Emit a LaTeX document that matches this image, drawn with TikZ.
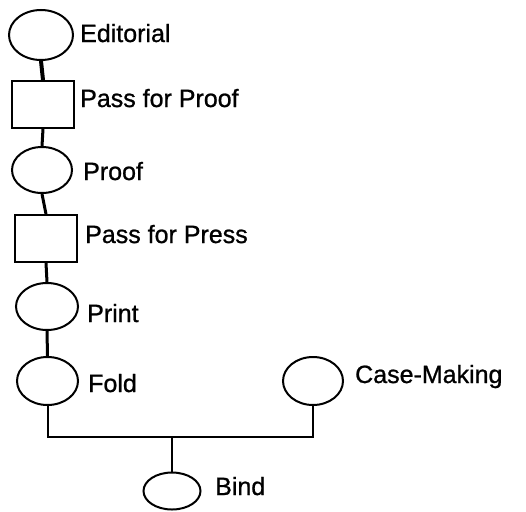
\documentclass[tikz,border=0pt]{standalone}
\usepackage{fontspec}
\setmainfont{Liberation Sans}
\newfontfamily\lblfont[FakeBold=0.9]{Liberation Sans}
\usetikzlibrary{shapes.geometric}

\begin{document}
\begin{tikzpicture}[x=1pt, y=-1pt,
		stage/.style={draw, ellipse, line width=2pt, inner sep=0pt},
		pass/.style={draw, rectangle, line width=2pt, inner sep=0pt},
		lbl/.style={anchor=base west, inner sep=0pt, font=\lblfont\fontsize{25}{30}\selectfont},
		link/.style={line width=3pt}]
		\useasboundingbox (0,0) rectangle (526,511);
		\node[stage, minimum width=64pt, minimum height=50pt] (edit) at (41,35) { };
		\node[pass, minimum width=62pt, minimum height=47pt] (pfproof) at (43,104.5) { };
		\node[stage, minimum width=60pt, minimum height=46pt] (proof) at (42,170) { };
		\node[pass, minimum width=62pt, minimum height=47pt] (pfpress) at (46,238.5) { };
		\node[stage, minimum width=62pt, minimum height=47pt] (print) at (47,306.5) { };
		\node[stage, minimum width=61pt, minimum height=48pt] (fold) at (47.5,381) { };
		\node[stage, minimum width=60pt, minimum height=48pt] (casemk) at (313,381) { };
		\node[stage, minimum width=57pt, minimum height=37pt] (bind) at (172,491) { };
		\coordinate (join) at (172,437);
		\node[lbl] (editlinha) at (80,42) {Editorial};
		\node[lbl] (pfprooflinha) at (80,107) {Pass for Proof};
		\node[lbl] (prooflinha) at (83,180) {Proof};
		\node[lbl] (pfpresslinha) at (85,243) {Pass for Press};
		\node[lbl] (printlinha) at (87,322) {Print};
		\node[lbl] (foldlinha) at (88,392) {Fold};
		\node[lbl] (casemklinha) at (355,383) {Case-Making};
		\node[lbl] (bindlinha) at (215,495) {Bind};
		\draw[link, line width=4pt] (edit.south) -- (pfproof.north);
		\draw[link] (pfproof.south) -- (proof.north);
		\draw[link] (proof.south) -- (pfpress.north);
		\draw[link] (pfpress.south) -- (print.north);
		\draw[link] (print.south) -- (fold.south |- fold.north);
		\draw[line width=2pt] (fold.south) |- (join) -| (casemk.south);
		\draw[line width=2pt] (join) -- (bind.north);
\end{tikzpicture}
\end{document}
